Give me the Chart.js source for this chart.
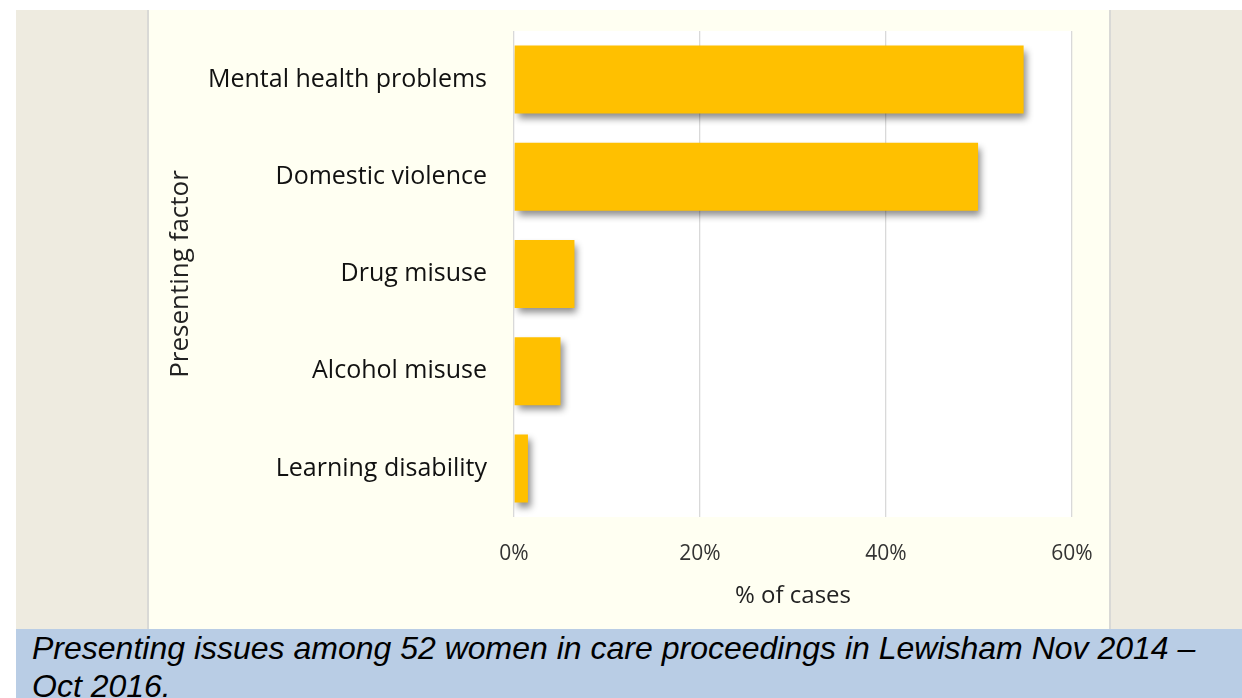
<!DOCTYPE html>
<html lang="en">
<head>
<meta charset="UTF-8">
<title>Presenting factors</title>
<script src="https://cdn.jsdelivr.net/npm/chart.js"></script>
<style>
  html, body { margin: 0; padding: 0; background: #fff; }
  body { width: 1242px; height: 698px; position: relative; overflow: hidden; }
  #side { position: absolute; left: 16px; top: 10px; width: 1226px; height: 620px; background: #EEEBE0; }
  #panel { position: absolute; left: 147px; top: 10px; width: 960px; height: 620px;
           background: #FFFFF2; border-left: 2px solid #D9D9D6; border-right: 2px solid #D9D9D6; }
  #wrap { position: absolute; left: 149px; top: 10px; width: 960px; height: 618px; }
  #caption { position: absolute; left: 16px; top: 629px; width: 1226px; height: 69px; background: #B9CDE5;
             font-family: "Liberation Sans", Arial, sans-serif; font-style: italic; font-size: 32px;
             line-height: 38px; color: #000; padding-left: 16px; box-sizing: border-box; padding-top: 0px;
             white-space: nowrap; }
</style>
</head>
<body>
<div id="side"></div>
<div id="panel"></div>
<div id="wrap"><canvas id="chart" width="960" height="618"></canvas></div>
<div id="caption">Presenting issues among 52 women in care proceedings in Lewisham Nov 2014 –<br>Oct 2016.</div>

<script>
var factors = ['Mental health problems', 'Domestic violence', 'Drug misuse', 'Alcohol misuse', 'Learning disability'];
var percentOfCases = [54.8, 49.9, 6.5, 5.0, 1.5];
var tickValues = [0, 20, 40, 60];

var plotBackground = {
  id: 'plotBackground',
  beforeDraw: function(chart) {
    var a = chart.chartArea, c = chart.ctx;
    c.save();
    c.fillStyle = '#ffffff';
    c.fillRect(a.left, a.top, a.right - a.left, a.bottom - a.top);
    c.restore();
  }
};

var barShadow = {
  id: 'barShadow',
  beforeDatasetsDraw: function(chart) {
    var c = chart.ctx;
    c.save();
    c.shadowColor = 'rgba(0,0,0,0.45)';
    c.shadowBlur = 7;
    c.shadowOffsetX = 3;
    c.shadowOffsetY = 5;
  },
  afterDatasetsDraw: function(chart) {
    chart.ctx.restore();
  }
};

var fam = '"Open Sans", "Noto Sans", sans-serif';

new Chart(document.getElementById('chart'), {
  type: 'bar',
  data: {
    labels: factors,
    datasets: [{
      data: percentOfCases,
      backgroundColor: '#FFC000',
      borderWidth: 0,
      categoryPercentage: 1,
      barPercentage: 0.7
    }]
  },
  plugins: [plotBackground, barShadow],
  options: {
    indexAxis: 'y',
    responsive: false,
    animation: false,
    layout: { padding: { left: 16, top: 21, right: 37, bottom: 17 } },
    plugins: { legend: { display: false }, tooltip: { enabled: false } },
    scales: {
      x: {
        min: 0, max: 60,
        afterBuildTicks: function(s) { s.ticks = tickValues.map(function(v) { return { value: v }; }); },
        afterFit: function(s) { s.height = 94; s.paddingLeft = 0; s.paddingRight = 0; },
        grid: { color: '#D9D9D9', lineWidth: 1.3, drawTicks: false },
        border: { display: false },
        ticks: { padding: 24, color: '#333', font: { family: fam, size: 21 },
                 callback: function(v) { return v + '%'; } },
        title: { display: true, text: '% of cases', color: '#222', padding: 0,
                 font: { family: fam, size: 24 } }
      },
      y: {
        afterFit: function(s) { s.width = 349; s.paddingTop = 0; s.paddingBottom = 0; },
        grid: { display: false },
        border: { display: false },
        ticks: { padding: 19, color: '#111', font: { family: fam, size: 25 } },
        title: { display: true, text: 'Presenting factor', color: '#222', padding: 0,
                 font: { family: fam, size: 26 } }
      }
    }
  }
});
</script>
</body>
</html>
